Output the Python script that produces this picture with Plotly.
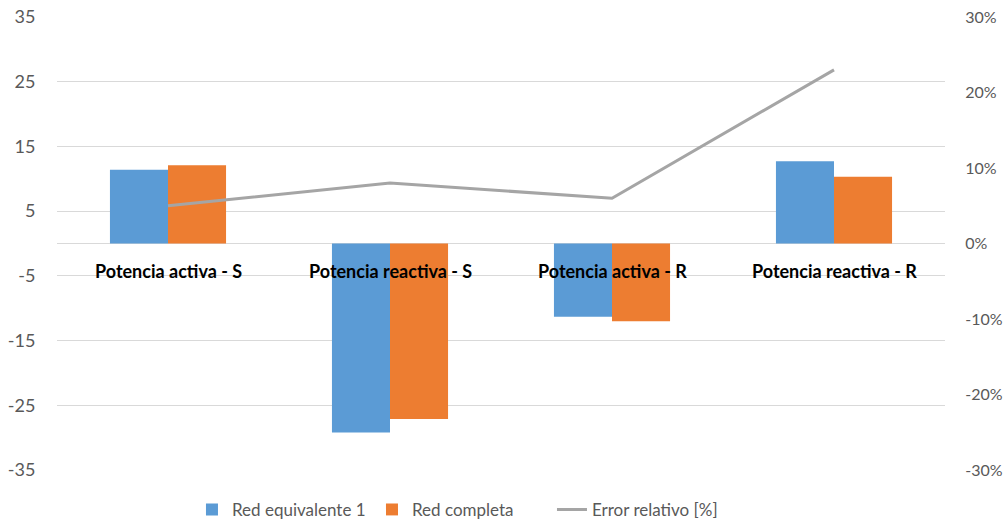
import plotly.graph_objects as go

# Categories and series values
categorias = ["Potencia activa - S", "Potencia reactiva - S", "Potencia activa - R", "Potencia reactiva - R"]
red_equivalente = [11.4, -29.2, -11.3, 12.7]
red_completa = [12.1, -27.1, -12.0, 10.3]
error_relativo = [0.05, 0.08, 0.06, 0.23]

left_ticks = [-35, -25, -15, -5, 5, 15, 25, 35]
left_labels = ["-35", "-25", "-15", "-5", "5", "15", "25", "35"]
right_ticks = [-0.3, -0.2, -0.1, 0, 0.1, 0.2, 0.3]
right_labels = ["-30%", "-20%", "-10%", "0%", "10%", "20%", "30%"]

FONT = "Lato"
TICK_COLOR = "#595959"
GRID_COLOR = "#d9d9d9"

fig = go.Figure()
fig.add_trace(go.Bar(x=categorias, y=red_equivalente, name="Red equivalente 1",
                     marker=dict(color="#5B9BD5", line=dict(width=0))))
fig.add_trace(go.Bar(x=categorias, y=red_completa, name="Red completa",
                     marker=dict(color="#ED7D31", line=dict(width=0))))
fig.add_trace(go.Scatter(x=categorias, y=error_relativo, name="Error relativo [%]",
                         mode="lines", yaxis="y2",
                         line=dict(color="#A5A5A5", width=3)))

# Category names sit just under the zero line, over the bars
for cat in categorias:
    fig.add_annotation(x=cat, y=0, xref="x", yref="y", text=f"<b>{cat}</b>",
                       showarrow=False, yanchor="top", yshift=-14,
                       font=dict(family=FONT, size=18, color="#000000"))

fig.update_layout(
    width=1003, height=522,
    margin=dict(l=57, r=58, t=17, b=52, autoexpand=False),
    paper_bgcolor="white", plot_bgcolor="white",
    barmode="group", bargap=0.477, bargroupgap=0,
    font=dict(family=FONT, size=18, color=TICK_COLOR),
    xaxis=dict(showticklabels=False, showgrid=False, zeroline=False,
               showline=False, ticks=""),
    yaxis=dict(range=[-35, 35], tickvals=left_ticks, ticktext=left_labels,
               showgrid=True, gridcolor=GRID_COLOR, gridwidth=1, zeroline=True,
               zerolinecolor=GRID_COLOR, zerolinewidth=1, showline=False,
               ticks="outside", ticklen=17, tickcolor="rgba(0,0,0,0)",
               tickfont=dict(family=FONT, size=18, color=TICK_COLOR)),
    yaxis2=dict(range=[-0.3, 0.3], tickvals=right_ticks, ticktext=right_labels,
                overlaying="y", side="right", showgrid=False, zeroline=False,
                showline=False, ticks="outside", ticklen=16,
                tickcolor="rgba(0,0,0,0)",
                tickfont=dict(family=FONT, size=16, color=TICK_COLOR)),
    legend=dict(orientation="h", x=0.152, xanchor="left", y=-0.088,
                yanchor="middle", font=dict(family=FONT, size=17, color=TICK_COLOR),
                itemwidth=30, entrywidth=135, traceorder="normal"),
)

fig.write_html("out.html")
